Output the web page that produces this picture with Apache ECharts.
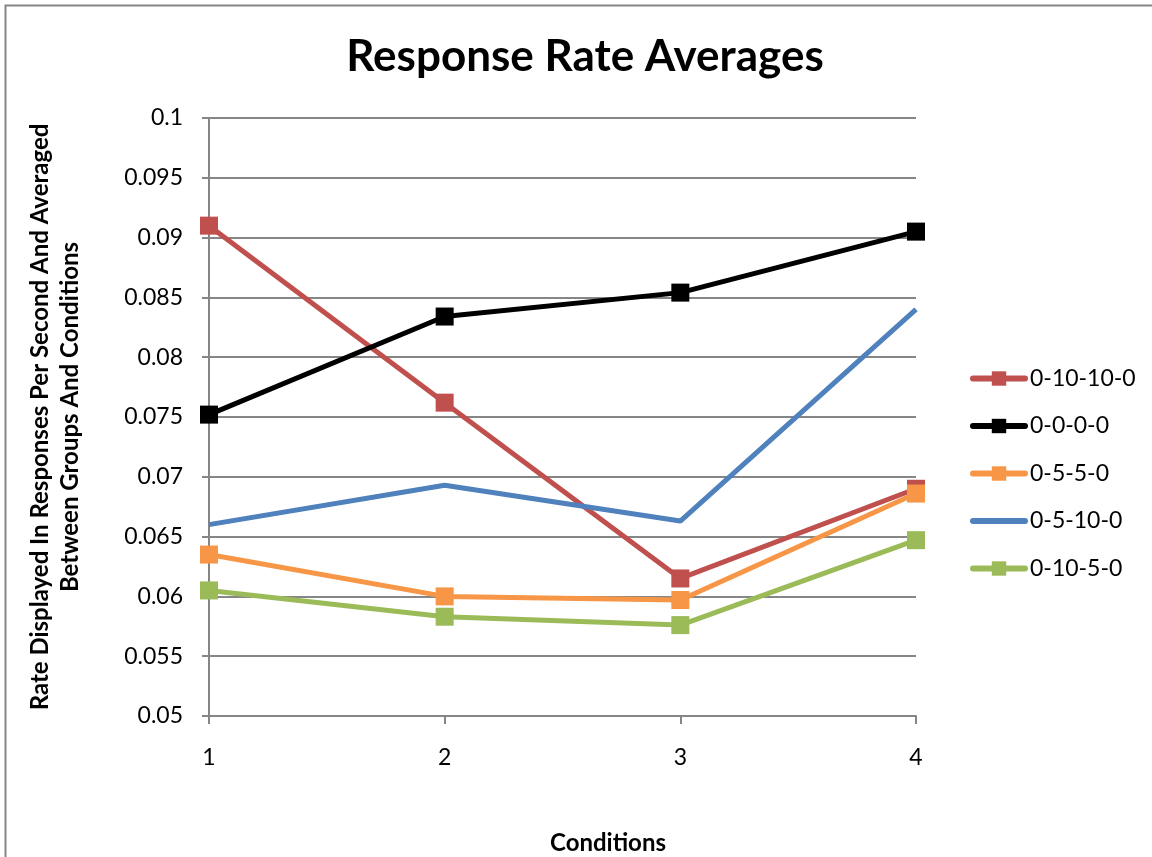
<!DOCTYPE html>
<html>
<head>
<meta charset="utf-8">
<script src="https://cdn.jsdelivr.net/npm/echarts@6/dist/echarts.min.js"></script>
<style>
  html, body { margin: 0; padding: 0; background: #fff; }
  #chart { width: 1152px; height: 857px; }
</style>
</head>
<body>
<div id="chart"></div>
<script>
// categories and series values
const conditions = ['1', '2', '3', '4'];
const s0_10_10_0 = [0.0910, 0.0762, 0.0615, 0.0690];
const s0_0_0_0 = [0.0752, 0.0834, 0.0854, 0.0905];
const s0_5_5_0 = [0.0635, 0.0600, 0.0597, 0.0686];
const s0_5_10_0 = [0.0660, 0.0693, 0.0663, 0.0840];
const s0_10_5_0 = [0.0605, 0.0583, 0.0576, 0.0647];

const font = 'Lato, "Open Sans", sans-serif';
const grey = '#868686';

function lineSeries(name, data, color, marker) {
  return {
    name,
    type: 'line',
    data,
    symbol: marker ? 'rect' : 'none',
    symbolSize: 18,
    showSymbol: marker,
    lineStyle: { width: 5, color },
    itemStyle: { color },
    emphasis: { disabled: true },
    z: 3
  };
}

const myChart = echarts.init(document.getElementById('chart'));
const option = {
  backgroundColor: '#fff',
  animation: false,
  title: [
    {
      text: 'Response Rate Averages',
      left: 580, top: 30,
      textAlign: 'center',
      textStyle: { fontFamily: font, fontSize: 44, fontWeight: 'bold', color: '#000' }
    },
    {
      text: 'Conditions',
      left: 603, top: 826,
      textAlign: 'center',
      textStyle: { fontFamily: font, fontSize: 24, fontWeight: 'bold', color: '#000' }
    }
  ],
  graphic: [
    {
      type: 'rect',
      shape: { x: 5.5, y: 5.5, width: 1200, height: 900 },
      style: { fill: 'none', stroke: grey, lineWidth: 2 },
      silent: true
    }
  ],
  legend: {
    orient: 'vertical',
    left: 965, top: 362,
    itemWidth: 52, itemHeight: 18,
    itemGap: 24.5,
    lineStyle: { width: 6, cap: 'round' },
    textStyle: { fontFamily: font, fontSize: 23, color: '#000' },
    data: [
      '0-10-10-0', '0-0-0-0', '0-5-5-0',
      { name: '0-5-10-0', itemStyle: { opacity: 0 } },
      '0-10-5-0'
    ]
  },
  grid: { left: 209, right: 236, top: 118, bottom: 141 },
  xAxis: {
    type: 'category',
    data: conditions,
    boundaryGap: false,
    axisLine: { lineStyle: { color: grey, width: 2 } },
    axisTick: { show: true, length: 8, lineStyle: { color: grey, width: 2 } },
    axisLabel: { margin: 30, fontFamily: font, fontSize: 23, color: '#000' }
  },
  yAxis: {
    type: 'value',
    min: 0.05, max: 0.1, interval: 0.005,
    name: 'Rate Displayed In Responses Per Second And Averaged\nBetween Groups And Conditions',
    nameLocation: 'middle',
    nameGap: 124,
    nameTextStyle: { fontFamily: font, fontSize: 24, fontWeight: 'bold', color: '#000', lineHeight: 30 },
    axisLine: { show: true, lineStyle: { color: grey, width: 2 } },
    axisTick: { show: true, length: 7, lineStyle: { color: grey, width: 2 } },
    splitLine: { show: true, lineStyle: { color: grey, width: 2 } },
    axisLabel: {
      margin: 26, fontFamily: font, fontSize: 23, color: '#000',
      formatter: v => String(parseFloat(v.toFixed(3)))
    }
  },
  series: [
    lineSeries('0-10-10-0', s0_10_10_0, '#C0504D', true),
    lineSeries('0-0-0-0', s0_0_0_0, '#000000', true),
    lineSeries('0-5-5-0', s0_5_5_0, '#F79646', true),
    lineSeries('0-5-10-0', s0_5_10_0, '#4F81BD', false),
    lineSeries('0-10-5-0', s0_10_5_0, '#9BBB59', true)
  ]
};
myChart.setOption(option);
</script>
</body>
</html>
